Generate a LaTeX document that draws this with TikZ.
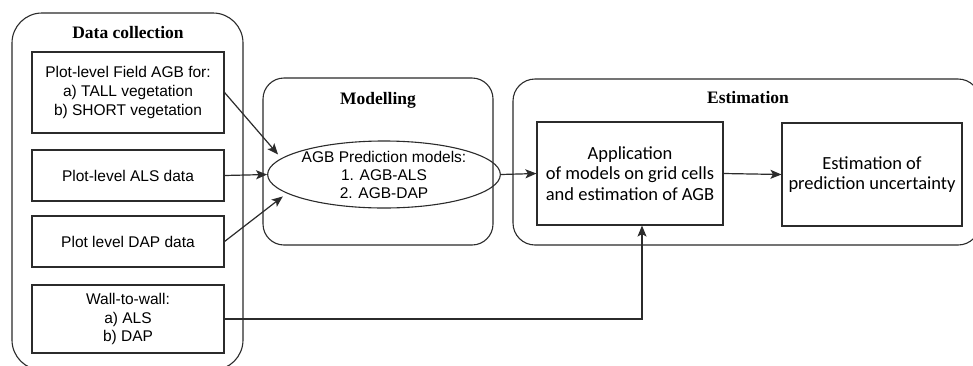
\documentclass[tikz,border=0pt]{standalone}
\usepackage{fontspec}
\setmainfont{Liberation Sans}
\newfontfamily\arialf{Liberation Sans}
\newfontfamily\calf{Carlito}
\newfontfamily\timesf{Liberation Serif}
\usetikzlibrary{arrows.meta,shapes.geometric,calc}
\definecolor{ln}{HTML}{2B2B2B}
\tikzset{
  container/.style={draw=ln,line width=1.1pt,rounded corners=#1,inner sep=0pt},
  databox/.style={draw=ln,line width=1.1pt,align=center,inner sep=0pt,
    font=\arialf\fontsize{15.5}{18.8}\selectfont,text=black},
  estbox/.style={draw=ln,line width=1.1pt,align=center,inner sep=0pt,
    font=\calf\fontsize{18.5}{20.5}\selectfont,text=black},
  title/.style={font=\timesf\bfseries\fontsize{17.5}{20}\selectfont,text=black,inner sep=0pt},
  conn/.style={draw=ln,line width=1.2pt,-{Stealth[length=11pt,width=9pt,inset=2.5pt]}},
}
\begin{document}
\begin{tikzpicture}[x=1pt,y=-1pt]
\clip (0,0) rectangle (973,365);
\fill[white] (0,0) rectangle (973,365);
% containers
\node[container=30pt,minimum width=231pt,minimum height=357pt] (dc) at (127.5,191.5) {};
\node[container=21pt,minimum width=230pt,minimum height=167pt] (mo) at (378,161.5) {};
\node[container=22pt,minimum width=467pt,minimum height=166pt] (es) at (746.5,162) {};
% titles
\node[title] (tdc) at (128,33) {Data collection};
\node[title] (tmo) at (378,100) {Modelling};
\node[title] (tes) at (748,98) {Estimation};
% data boxes
\node[databox,minimum width=192pt,minimum height=81pt] (b1) at (128,92.5)
  {Plot-level Field AGB for:\\a) TALL vegetation\\b) SHORT vegetation};
\node[databox,minimum width=192pt,minimum height=51pt] (b2) at (128,175.5)
  {Plot-level ALS data};
\node[databox,minimum width=192pt,minimum height=51pt] (b3) at (128,241.5)
  {Plot level DAP data};
\node[databox,minimum width=192pt,minimum height=68pt] (b4) at (128,319)
  {Wall-to-wall:\\a) ALS\\b) DAP};
% ellipse
\node[ellipse,draw=ln,line width=1.1pt,inner sep=0pt,minimum width=206pt,minimum height=65pt,
  align=center,font=\arialf\fontsize{15.5}{18}\selectfont] (e) at (384,174.5)
  {AGB Prediction models:\\1. AGB-ALS\\2. AGB-DAP};
% estimation boxes
\node[estbox,minimum width=186pt,minimum height=103pt] (a) at (630,173.5)
  {Application\\of models on grid cells\\and estimation of AGB};
\node[estbox,minimum width=180pt,minimum height=103pt] (b) at (872,174.5)
  {Estimation of\\prediction uncertainty};
% connectors
\draw[conn,shorten >=5pt] (b1.east) -- (e.171);
\draw[conn] (b2.east) -- (e.west);
\draw[conn,shorten >=5pt] (b3.east) -- (e.191);
\draw[conn] (e.east) -- (a.west);
\draw[conn] (a.east) -- (b.west);
\draw[conn] (b4.east) -| ([xshift=12pt]a.south);
\end{tikzpicture}
\end{document}
